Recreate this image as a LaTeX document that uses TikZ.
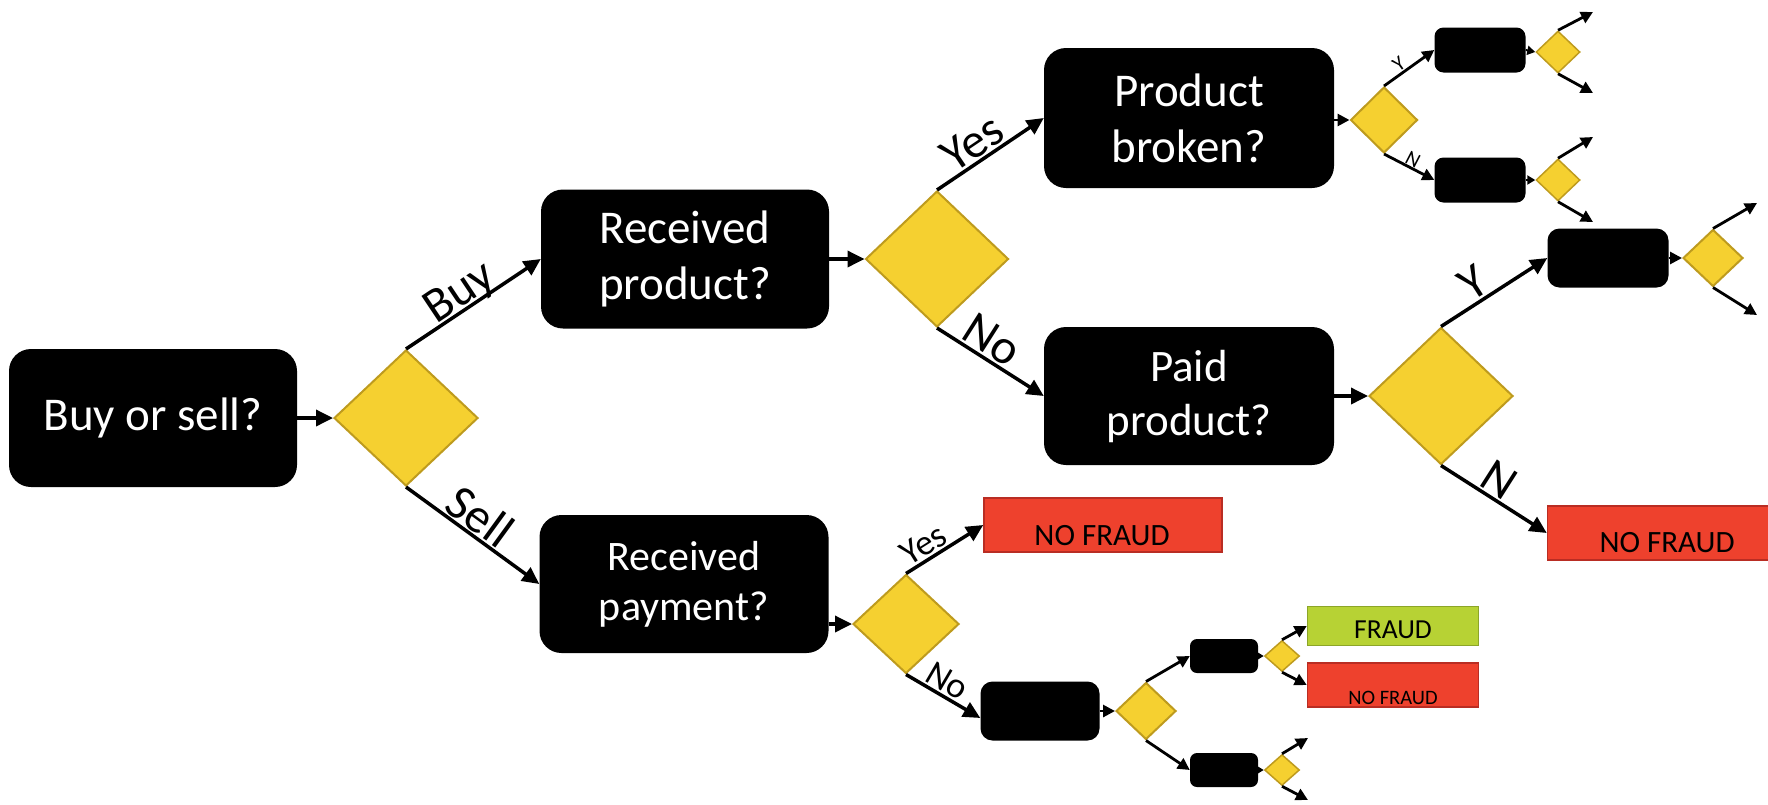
\documentclass[tikz,border=0pt]{standalone}
\usepackage{fontspec}
\setmainfont{Carlito}
\usetikzlibrary{shapes.geometric,arrows.meta,calc}
\definecolor{dyel}{HTML}{F5D030}
\definecolor{dyelb}{HTML}{BE9B1E}
\definecolor{nfred}{HTML}{EE412D}
\definecolor{nfredb}{HTML}{B92D23}
\definecolor{frgreen}{HTML}{B7D234}
\definecolor{frgreenb}{HTML}{8CA528}
\begin{document}
\begin{tikzpicture}[x=1pt,y=-1pt,
  qbox/.style={rectangle,rounded corners=22pt,fill=black,text=white,align=center,inner sep=0pt,font=\fontsize{47}{56}\selectfont},
  sbox/.style={rectangle,rounded corners=9pt,fill=black,inner sep=0pt},
  dia/.style={diamond,fill=dyel,draw=dyelb,line width=2pt,inner sep=0pt},
  nfbox/.style={rectangle,fill=nfred,draw=nfredb,line width=1.5pt,inner sep=0pt},
  frbox/.style={rectangle,fill=frgreen,draw=frgreenb,line width=1.5pt,inner sep=0pt},
  boxtext/.style={inner sep=0pt,text=black},
  arr/.style={line width=3.5pt,-{Triangle[length=17pt,width=16pt]}},
  sarr/.style={line width=2.8pt,-{Triangle[length=12pt,width=12pt]}},
  tarr/.style={line width=2pt,-{Triangle[length=8pt,width=9pt]}},
  lab/.style={sloped,above,inner sep=2pt,text depth=0pt,font=\fontsize{49}{49}\selectfont},
]
\useasboundingbox (0,0) rectangle (1768,804);

% question boxes
\node[qbox,minimum width=288pt,minimum height=138pt] (buy) at (153,418) {Buy or sell?};
\node[qbox,minimum width=288pt,minimum height=139pt] (rp) at (685,259) {Received\\product?};
\node[qbox,minimum width=290pt,minimum height=140pt] (pb) at (1189,118) {Product\\broken?};
\node[qbox,minimum width=290pt,minimum height=138pt,font=\fontsize{45}{54}\selectfont] (pp) at (1189,396) {Paid\\product?};
\node[qbox,minimum width=289pt,minimum height=138pt,font=\fontsize{42}{50}\selectfont] (rpay) at (684,584) {Received\\payment?};

% small boxes
\node[sbox,minimum width=91pt,minimum height=45pt] (s1) at (1480,50) {};
\node[sbox,minimum width=91pt,minimum height=45pt] (s2) at (1480,180) {};
\node[sbox,minimum width=121pt,minimum height=59pt,rounded corners=12pt] (s3) at (1608,258) {};
\node[sbox,minimum width=119pt,minimum height=59pt,rounded corners=12pt] (s4) at (1040,711) {};
\node[sbox,minimum width=68pt,minimum height=34pt,rounded corners=7pt] (s5) at (1224,656) {};
\node[sbox,minimum width=68pt,minimum height=34pt,rounded corners=7pt] (s6) at (1224,770) {};

% diamonds
\node[dia,minimum width=144pt,minimum height=136pt] (d1) at (406,418) {};
\node[dia,minimum width=143pt,minimum height=136pt] (d2) at (937,259) {};
\node[dia,minimum width=67pt,minimum height=66pt] (d3) at (1384,120) {};
\node[dia,minimum width=44pt,minimum height=42pt,line width=1.5pt] (d4) at (1558,52) {};
\node[dia,minimum width=44pt,minimum height=42pt,line width=1.5pt] (d5) at (1558,180) {};
\node[dia,minimum width=144pt,minimum height=137pt] (d6) at (1441,396) {};
\node[dia,minimum width=60pt,minimum height=57pt] (d7) at (1713,258) {};
\node[dia,minimum width=106pt,minimum height=99pt] (d8) at (906,624) {};
\node[dia,minimum width=60pt,minimum height=57pt] (d9) at (1146,711) {};
\node[dia,minimum width=35pt,minimum height=31pt,line width=1.5pt] (d10) at (1282,656) {};
\node[dia,minimum width=35pt,minimum height=31pt,line width=1.5pt] (d11) at (1282,770) {};

% result boxes
\node[nfbox,minimum width=227pt,minimum height=54pt] (nf1) at (1661,533) {};
\node[boxtext,font=\fontsize{31}{31}\selectfont] (nf1t) at (1667,543) {NO FRAUD};
\node[nfbox,minimum width=238pt,minimum height=54pt] (nf2) at (1103,525) {};
\node[boxtext,font=\fontsize{31}{31}\selectfont] (nf2t) at (1102,536) {NO FRAUD};
\node[frbox,minimum width=171pt,minimum height=39pt] (fr) at (1393,626) {};
\node[boxtext,font=\fontsize{27.5}{27.5}\selectfont] (frt) at (1393,630) {FRAUD};
\node[nfbox,minimum width=171pt,minimum height=44pt] (nf3) at (1393,685) {};
\node[boxtext,font=\fontsize{20.5}{20.5}\selectfont] (nf3t) at (1393,698) {NO FRAUD};

% free ends
\coordinate (t4a) at (1593,12);
\coordinate (t4b) at (1593,93);
\coordinate (t5a) at (1593,137);
\coordinate (t5b) at (1593,222);
\coordinate (t7a) at (1757,203);
\coordinate (t7b) at (1757,315);
\coordinate (t11a) at (1308,738);
\coordinate (t11b) at (1308,800);

% box -> diamond
\draw[arr] (buy.east) -- (d1.west);
\draw[arr] (rp.east) -- (d2.west);
\draw[sarr] (pb.east |- d3.west) -- (d3.west);
\draw[arr] (pp.east) -- (d6.west);
\draw[arr] (rpay.east |- d8.west) -- (d8.west);
\draw[sarr] (s3.east) -- (d7.west);
\draw[sarr] (s4.east) -- (d9.west);
\draw[tarr] (s1.east) -- (d4.west);
\draw[tarr] (s2.east) -- (d5.west);
\draw[tarr] (s5.east) -- (d10.west);
\draw[tarr] (s6.east) -- (d11.west);

% labelled branches
\draw[arr] (d1.north) -- node[lab,pos=0.47] (lbuy) {Buy} (rp.west);
\draw[arr] (d1.south) -- node[lab,pos=0.47] (lsell) {Sell} (rpay.west);
\draw[arr] (d2.north) -- node[lab,pos=0.43] (lyes1) {Yes} (pb.west);
\draw[arr] (d2.south) -- node[lab,pos=0.42] (lno1) {No} (pp.west);
\draw[arr] (d6.north) -- node[lab,pos=0.4] (ly2) {Y} (s3.west);
\draw[arr] (d6.south) -- node[lab,pos=0.45] (ln2) {N} (nf1.west);
\draw[arr] (d8.north) -- node[lab,pos=0.33,font=\fontsize{36}{36}\selectfont] (lyes2) {Yes} (nf2.west);
\draw[arr] (d8.south) -- node[lab,pos=0.45,font=\fontsize{36}{36}\selectfont] (lno2) {No} ($(s4.west)+(0,7)$);
\draw[sarr] (d3.north) -- node[lab,pos=0.4,inner sep=1pt,font=\fontsize{21}{21}\selectfont] (ly1) {Y} (s1.west);
\draw[sarr] (d3.south) -- node[lab,pos=0.5,inner sep=0pt,font=\fontsize{21}{21}\selectfont] (ln1) {N} (s2.west);

% unlabelled branches
\draw[sarr] (d9.north) -- (s5.west);
\draw[sarr] (d9.south) -- (s6.west);
\draw[sarr] (d10.north) -- (fr.west);
\draw[sarr] (d10.south) -- (nf3.west);
\draw[sarr] (d11.north) -- (t11a);
\draw[sarr] (d11.south) -- (t11b);
\draw[sarr] (d4.north) -- (t4a);
\draw[sarr] (d4.south) -- (t4b);
\draw[sarr] (d5.north) -- (t5a);
\draw[sarr] (d5.south) -- (t5b);
\draw[sarr] (d7.north) -- (t7a);
\draw[sarr] (d7.south) -- (t7b);
\end{tikzpicture}
\end{document}
